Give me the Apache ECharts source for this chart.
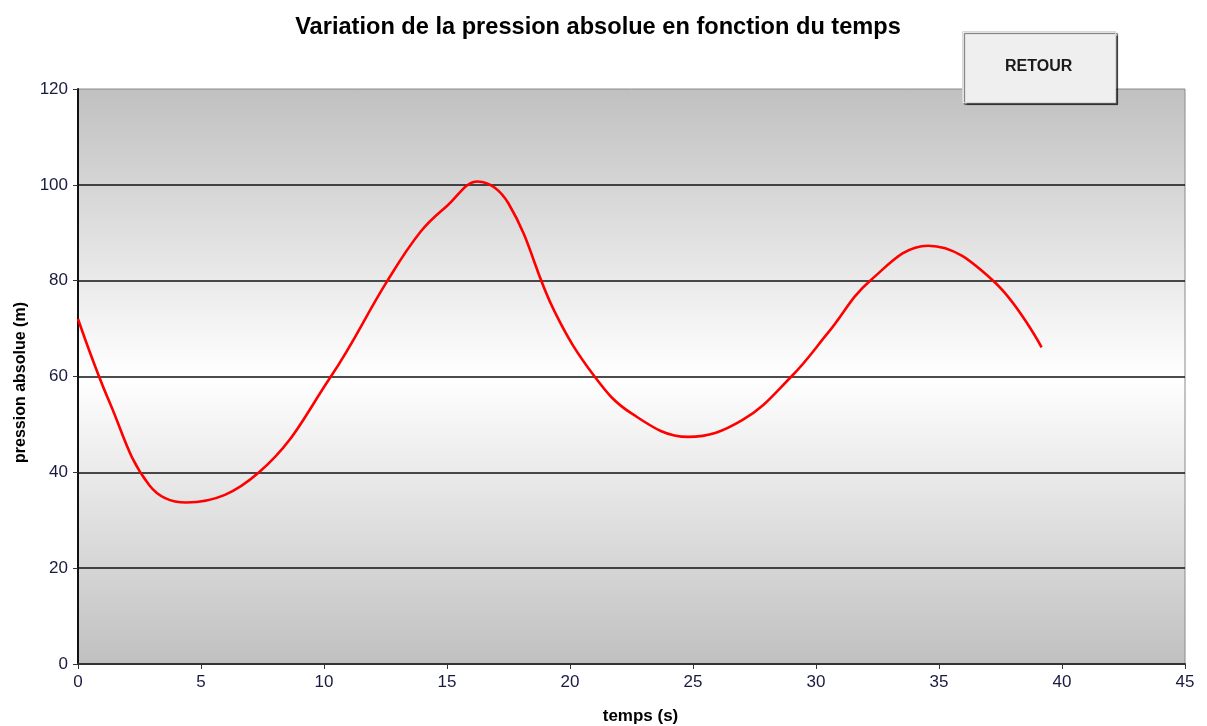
<!DOCTYPE html>
<html>
<head>
<meta charset="utf-8">
<script src="https://cdn.jsdelivr.net/npm/echarts@6/dist/echarts.min.js"></script>
<style>
  html, body { margin: 0; padding: 0; background: #ffffff; }
  #chart { width: 1207px; height: 726px; }
</style>
</head>
<body>
<div id="chart"></div>
<script>
// Temps (s) et pression absolue (m)
const temps = [0, 1.3, 2.9, 4.4, 7.36, 10.28, 12.58, 13.94, 15.0, 16.25, 17.5,
  19.37, 21.0, 22.5, 24.8, 27.0, 29.0, 30.5, 32.2, 34.56, 37.2, 39.17];
const pression = [72, 54.4, 37.3, 33.7, 40, 60, 80, 90.3, 95.6, 100.7, 96.1,
  73.6, 60, 52.3, 47.4, 50.9, 60, 69.2, 80, 87.3, 80, 66.1];

const xTicks = { min: 0, max: 45, interval: 5 };
const yTicks = { min: 0, max: 120, interval: 20 };

const titre = 'Variation de la pression absolue en fonction du temps';
const titreX = 'temps (s)';
const titreY = 'pression absolue (m)';
const bouton = 'RETOUR';

const points = temps.map((t, i) => [t, pression[i]]);

const chart = echarts.init(document.getElementById('chart'), null, { renderer: 'canvas' });
const font = 'Arial, "Liberation Sans", sans-serif';

chart.setOption({
  animation: false,
  backgroundColor: '#ffffff',
  title: {
    text: titre,
    left: 593,
    top: 10,
    textAlign: 'center',
    textStyle: { fontFamily: font, fontSize: 23.6, fontWeight: 'bold', color: '#000' }
  },
  grid: {
    left: 78, right: 22, top: 89, bottom: 62,
    outerBoundsMode: 'none',
    containLabel: false,
    show: true,
    borderColor: '#8a8a8a',
    borderWidth: 1,
    backgroundColor: {
      type: 'linear', x: 0, y: 0, x2: 0, y2: 1,
      colorStops: [
        { offset: 0, color: '#c0c0c0' },
        { offset: 0.5, color: '#ffffff' },
        { offset: 1, color: '#c0c0c0' }
      ]
    }
  },
  xAxis: {
    type: 'value',
    min: xTicks.min, max: xTicks.max, interval: xTicks.interval,
    name: titreX,
    nameLocation: 'middle',
    nameGap: 44,
    nameTextStyle: { fontFamily: font, fontSize: 17, fontWeight: 'bold', color: '#000', padding: [0, 0, 0, 18] },
    axisLine: { show: true, onZero: false, lineStyle: { color: '#333', width: 2 } },
    axisTick: { show: true, length: 5, lineStyle: { color: '#333', width: 1 } },
    axisLabel: { fontFamily: font, fontSize: 17, color: '#1a1a40', margin: 10 },
    splitLine: { show: false }
  },
  yAxis: {
    type: 'value',
    min: yTicks.min, max: yTicks.max, interval: yTicks.interval,
    name: titreY,
    nameLocation: 'middle',
    nameGap: 48,
    nameRotate: 90,
    nameTextStyle: { fontFamily: font, fontSize: 16, fontWeight: 'bold', color: '#000', padding: [0, 12, 0, 0] },
    axisLine: { show: true, onZero: false, lineStyle: { color: '#111', width: 2 } },
    axisTick: { show: true, length: 5, lineStyle: { color: '#333', width: 1 } },
    axisLabel: { fontFamily: font, fontSize: 17, color: '#1a1a40', margin: 10 },
    splitLine: { show: true, showMaxLine: false, lineStyle: { color: '#111', width: 1.5 } }
  },
  series: [{
    type: 'line',
    data: points,
    smooth: 0.4,
    showSymbol: false,
    lineStyle: { color: '#ff0000', width: 2.6 },
    z: 3
  }],
  graphic: [
    {
      type: 'rect',
      left: 962, top: 31,
      shape: { width: 153, height: 71 },
      style: {
        fill: '#efefef',
        stroke: '#d8d8d8',
        lineWidth: 1,
        shadowColor: 'rgba(0,0,0,0.55)',
        shadowOffsetX: 2,
        shadowOffsetY: 2,
        shadowBlur: 1
      },
      z: 100
    },
    {
      type: 'text',
      left: 1005, top: 59,
      style: {
        text: bouton,
        font: 'bold 16px Arial, "Liberation Sans", sans-serif',
        fill: '#1a1a1a'
      },
      z: 101
    }
  ]
});
</script>
</body>
</html>
